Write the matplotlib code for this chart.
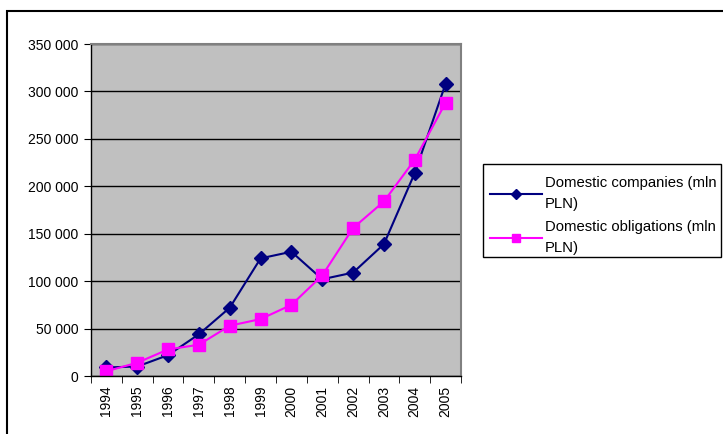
import matplotlib.pyplot as plt
import numpy as np
from matplotlib.ticker import FuncFormatter, FixedLocator
from matplotlib.patches import Rectangle

plt.rcParams['font.family'] = ['Liberation Sans', 'DejaVu Sans']

# data
years = ['1994', '1995', '1996', '1997', '1998', '1999',
         '2000', '2001', '2002', '2003', '2004', '2005']
companies = [9000, 10000, 22000, 44000, 72000, 124000,
             131000, 102000, 109000, 139000, 214000, 308000]
obligations = [5000, 14000, 28000, 33000, 53000, 60000,
               75000, 106000, 156000, 184000, 228000, 288000]

x = np.arange(len(years))

fig = plt.figure(figsize=(7.23, 4.34), dpi=100)
ax = fig.add_axes([91 / 723, 58 / 434, 370 / 723, 332 / 434])
ax.set_facecolor('#c0c0c0')

ax.plot(x, companies, color='#000080', marker='D', markersize=7.5, lw=1.5,
        label='Domestic companies (mln\nPLN)')
ax.plot(x, obligations, color='#ff00ff', marker='s', markersize=9, lw=1.5,
        label='Domestic obligations (mln\nPLN)')

ax.set_xlim(-0.5, len(years) - 0.5)
ax.set_ylim(0, 350000)
ax.set_yticks(np.arange(0, 350001, 50000))
ax.yaxis.set_major_formatter(FuncFormatter(lambda v, p: f'{int(v):,}'.replace(',', ' ')))
ax.grid(axis='y', color='black', lw=1)
ax.set_axisbelow(True)

ax.set_xticks(x)
ax.set_xticklabels(years, rotation=90)
ax.xaxis.set_minor_locator(FixedLocator(np.arange(-0.5, len(years), 1)))
ax.tick_params(axis='x', which='major', length=0, pad=7)
ax.tick_params(axis='x', which='minor', length=5, direction='out')
ax.tick_params(axis='y', length=5, direction='out', pad=4)
ax.tick_params(labelsize=10)

for s in ['top', 'right']:
    ax.spines[s].set_color('#808080')
    ax.spines[s].set_linewidth(1.5)
for s in ['left', 'bottom']:
    ax.spines[s].set_color('black')
    ax.spines[s].set_linewidth(1)

# legend without its own frame; the box is drawn separately
leg = fig.legend(loc='upper left', bbox_to_anchor=(490 / 723, 1 - 176 / 434),
                 fontsize=10.7, frameon=False, handlelength=3.5,
                 borderpad=0, labelspacing=0.65, handletextpad=0.2,
                 borderaxespad=0, markerscale=0.7)
for t in leg.get_texts():
    t.set_linespacing(1.6)

fig.patches.append(Rectangle((483 / 723, 1 - 257 / 434), 238 / 723, 93 / 434,
                             transform=fig.transFigure, fill=False,
                             edgecolor='black', lw=1))

# outer chart border (cut off on the right and bottom)
fig.patches.append(Rectangle((7 / 723, -0.1), 1.2, 1.1 - 11 / 434,
                             transform=fig.transFigure, fill=False,
                             edgecolor='black', lw=1.5))

fig.savefig('out.png', dpi=100)
